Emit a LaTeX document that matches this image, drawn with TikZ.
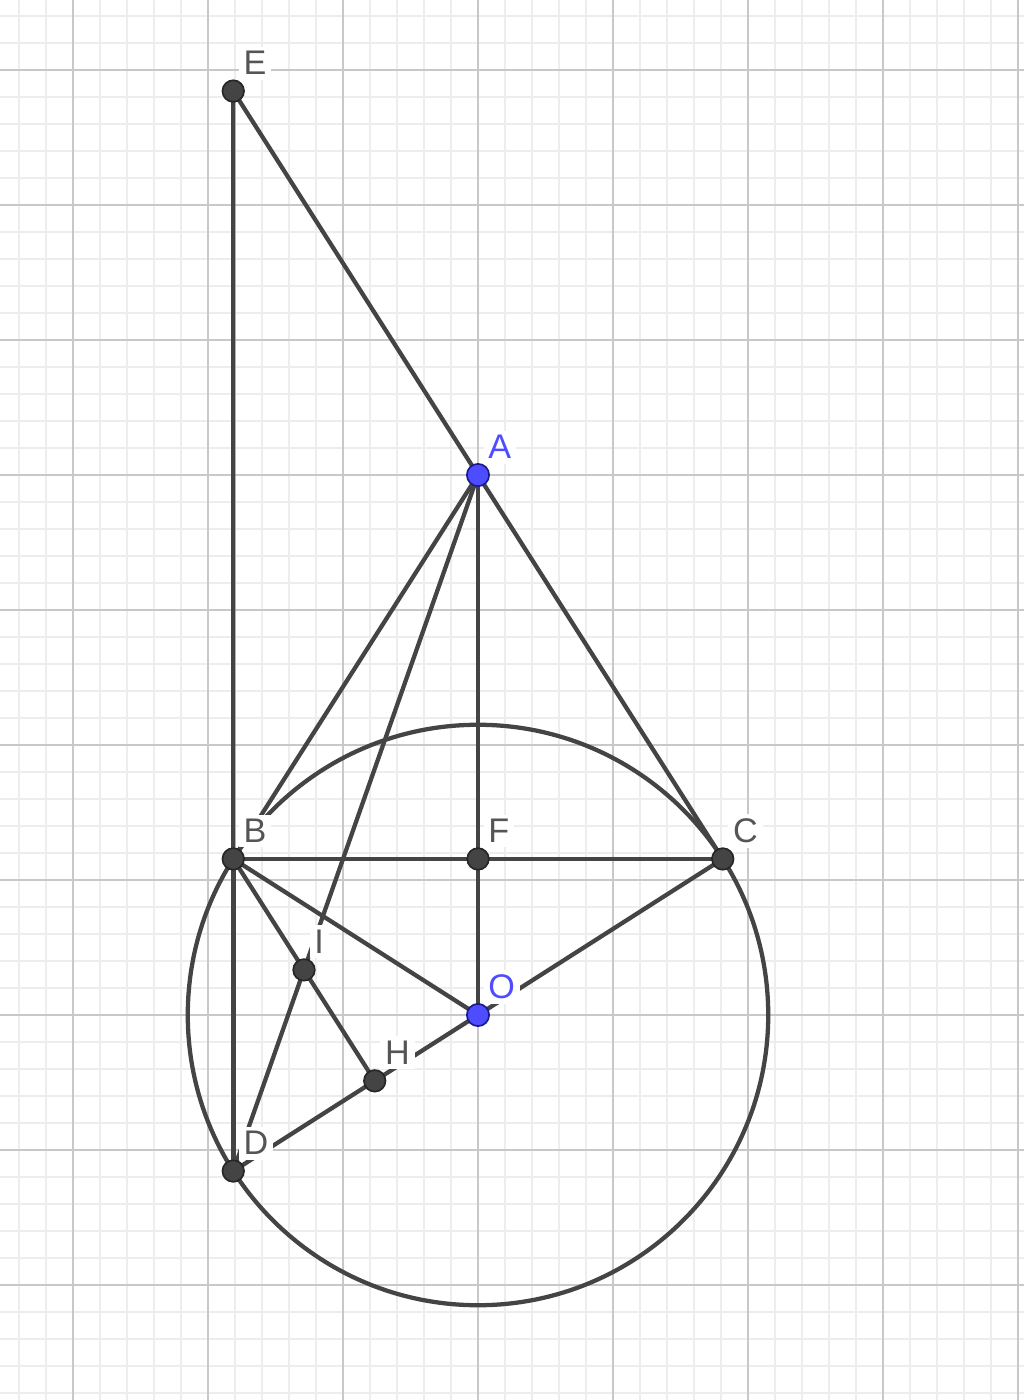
\documentclass[tikz,border=0pt]{standalone}
\usepackage{fontspec}
\setmainfont{Liberation Sans}
\usetikzlibrary{calc,positioning}
\definecolor{segcol}{HTML}{444444}
\definecolor{ptcol}{HTML}{444444}
\definecolor{freecol}{HTML}{4D4DFF}
\definecolor{freeline}{HTML}{1A1A8C}
\definecolor{lblcol}{HTML}{555555}
\definecolor{majorcol}{HTML}{C8C8C8}
\definecolor{minorcol}{HTML}{EDEDED}

\begin{document}
\begin{tikzpicture}
[x=1cm,y=1cm,
%
minorgrid/.style={draw=minorcol,line width=.4pt},
majorgrid/.style={draw=majorcol,line width=.5pt},
seg/.style={draw=segcol,line width=.9pt},
vertex/.style={shape=circle,fill=ptcol,draw=black!85,line width=.35pt,inner sep=0pt,minimum size=.16cm},
free/.style={shape=circle,fill=freecol,draw=freeline,line width=.35pt,inner sep=0pt,minimum size=.165cm},
lbl/.style={anchor=base west,fill=white,inner sep=1pt,text=lblcol,font=\fontsize{7.2}{8}\selectfont}]
%
\useasboundingbox (-3.541,-2.852) rectangle (4.044,7.519);
% grid
\draw[minorgrid,step=.2] (-3.541,-2.852) grid (4.044,7.519);
\draw[majorgrid,step=1] (-3.541,-2.852) grid (4.044,7.519);
%%
% points
\coordinate (O) at (0,0);
\coordinate (A) at (0,4);
\coordinate (B) at (-1.813,1.156);
\coordinate (C) at (1.813,1.156);
\coordinate (D) at (-1.813,-1.156);
\coordinate (F) at (0,1.156);
\coordinate (E) at (intersection of A--C and B--D);
\coordinate (H) at ($(D)!(B)!(C)$);
\coordinate (I) at (intersection of A--D and B--H);
%%
% circle
\draw[seg] (O) circle (2.15);
%%
% segments
\draw[seg] (E) -- (A);
\draw[seg] (A) -- (C);
\draw[seg] (E) -- (B);
\draw[seg,line width=1.1pt] (B) -- (D);
\draw[seg] (A) -- (B);
\draw[seg] (A) -- (O);
\draw[seg] (A) -- (D);
\draw[seg] (B) -- (C);
\draw[seg] (B) -- (O);
\draw[seg] (B) -- (H);
\draw[seg] (D) -- (C);
%%
% labels
\foreach \p in {E,B,F,C,I,H,D}
   \node (l\p) [lbl] at ($(\p)+(.035,.12)$) {\p};
\foreach \p in {A,O}
   \node (l\p) [lbl,text=freecol] at ($(\p)+(.035,.12)$) {\p};
%%
% markers
\foreach \p in {E,B,F,C,I,H,D}
   \node (p\p) [vertex] at (\p) {};
\foreach \p in {A,O}
   \node (p\p) [free] at (\p) {};
\end{tikzpicture}
\end{document}
